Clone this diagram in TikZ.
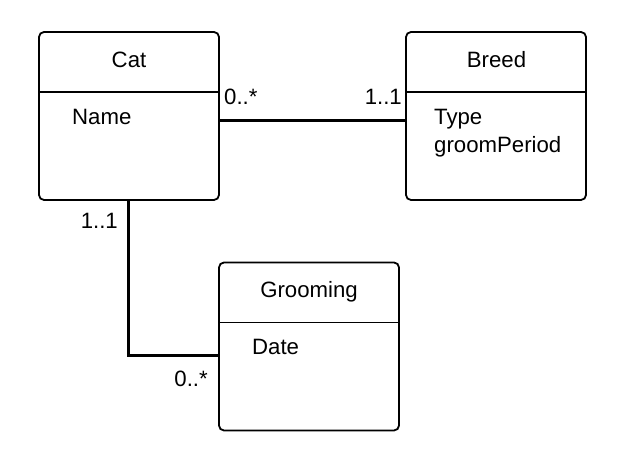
\documentclass[tikz,border=0pt]{standalone}
\usepackage{fontspec}
\setmainfont{Liberation Sans}
\usetikzlibrary{positioning}
\tikzset{
  classbox/.style={draw=black, line width=1.8pt, rounded corners=5pt, minimum width=180pt, minimum height=168pt, inner sep=0pt},
  divider/.style={draw=black, line width=1.8pt},
  assoc/.style={draw=black, line width=3pt},
  umltext/.style={inner sep=0pt, font=\fontsize{22.2}{26}\selectfont}
}

\begin{document}
\begin{tikzpicture}[x=1pt, y=-1pt]
  \useasboundingbox (0,0) rectangle (625,457);

  % class boxes
  \node[classbox] (cat) at (129,116) {};
  \node[classbox] (breed) at (496,116) {};
  \node[classbox] (grooming) at (309,346.5) {};

  \draw[divider] ([yshift=-61pt]cat.north west) -- ([yshift=-61pt]cat.north east);
  \draw[divider] ([yshift=-61pt]breed.north west) -- ([yshift=-61pt]breed.north east);
  \draw[divider] ([yshift=-61pt]grooming.north west) -- ([yshift=-61pt]grooming.north east);

  % names and attributes
  \node[umltext, anchor=base] (catname) at (129,67.7) {Cat};
  \node[umltext, anchor=base west] (catattr) at (72,125) {Name};
  \node[umltext, anchor=base] (breedname) at (496.5,67.7) {Breed};
  \node[umltext, anchor=base west] (breedtype) at (434,125) {Type};
  \node[umltext, anchor=base west] (breedperiod) at (434,152.5) {groomPeriod};
  \node[umltext, anchor=base] (groomname) at (309,297.7) {Grooming};
  \node[umltext, anchor=base west] (groomattr) at (252,355) {Date};

  % associations
  \draw[assoc] ([yshift=-5pt]cat.east) -- ([yshift=-5pt]breed.west);
  \draw[assoc] ([xshift=-1pt]cat.south) |- ([yshift=-9.5pt]grooming.west);

  % multiplicities
  \node[umltext, anchor=base west] (mcatbreed) at (224,105) {0..*};
  \node[umltext, anchor=base east] (mbreedcat) at (402,105) {1..1};
  \node[umltext, anchor=base east] (mcatgroom) at (118,229) {1..1};
  \node[umltext, anchor=base east] (mgroomcat) at (208,387) {0..*};
\end{tikzpicture}
\end{document}
